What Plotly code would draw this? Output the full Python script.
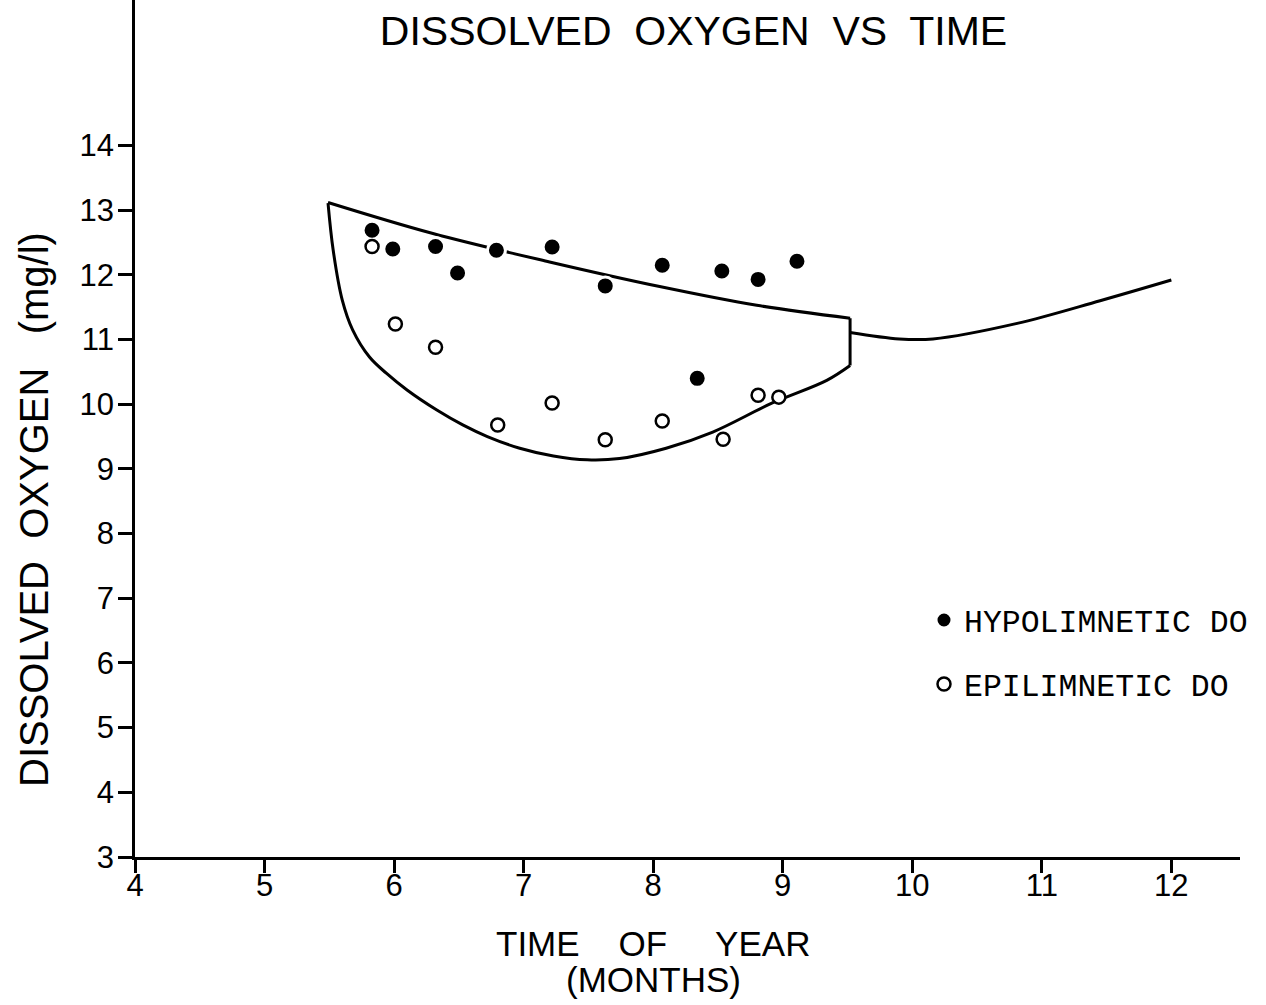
import plotly.graph_objects as go

# Hypolimnetic dissolved oxygen samples (filled circles)
hypo_month = [5.83, 5.99, 6.32, 6.49, 6.79, 7.22, 7.63, 8.07, 8.34, 8.53, 8.81, 9.11]
hypo_do = [12.69, 12.40, 12.44, 12.03, 12.38, 12.43, 11.83, 12.15, 10.40, 12.06, 11.93, 12.21]

# Epilimnetic dissolved oxygen samples (open circles)
epi_month = [5.83, 6.01, 6.32, 6.80, 7.22, 7.63, 8.07, 8.54, 8.81, 8.97]
epi_do = [12.44, 11.24, 10.88, 9.68, 10.02, 9.45, 9.74, 9.46, 10.14, 10.11]

# Envelope: upper boundary
upper_month = [5.49, 6.30, 7.20, 8.05, 8.80, 9.52]
upper_do = [13.12, 12.64, 12.20, 11.82, 11.53, 11.33]

# Envelope: right-hand closing edge
edge_month = [9.52, 9.52]
edge_do = [11.33, 10.60]

# Envelope: lower boundary
lower_month = [5.49, 5.53, 5.60, 5.68, 5.81, 5.94, 6.10, 6.33, 6.53, 6.72, 6.97, 7.23, 7.49, 7.74, 8.10, 8.46, 8.92, 9.34, 9.52]
lower_do = [13.11, 12.38, 11.61, 11.15, 10.73, 10.48, 10.22, 9.91, 9.68, 9.50, 9.32, 9.20, 9.14, 9.16, 9.32, 9.57, 10.02, 10.37, 10.60]

# Fully mixed period after turnover
mixed_month = [9.52, 9.90, 10.16, 10.81, 11.45, 12.00]
mixed_do = [11.11, 11.01, 11.01, 11.25, 11.60, 11.92]

x_ticks = [4, 5, 6, 7, 8, 9, 10, 11, 12]
y_ticks = [3, 4, 5, 6, 7, 8, 9, 10, 11, 12, 13, 14]

SANS = "Liberation Sans"
MONO = "Liberation Mono"
INK = "black"

fig = go.Figure()

for xs, ys, shape in [
    (upper_month, upper_do, "spline"),
    (edge_month, edge_do, "linear"),
    (lower_month, lower_do, "spline"),
    (mixed_month, mixed_do, "spline"),
]:
    fig.add_trace(go.Scatter(
        x=xs, y=ys, mode="lines",
        line=dict(color=INK, width=3, shape=shape, smoothing=1.0),
        showlegend=False, hoverinfo="skip",
    ))

fig.add_trace(go.Scatter(
    x=hypo_month, y=hypo_do, mode="markers", name="HYPOLIMNETIC DO",
    legendgroup="hypo",
    marker=dict(symbol="circle", size=18, color=INK, line=dict(color="white", width=3)),
))
fig.add_trace(go.Scatter(
    x=epi_month, y=epi_do, mode="markers", name="EPILIMNETIC DO",
    legendgroup="epi",
    marker=dict(symbol="circle", size=13, color="white", line=dict(color=INK, width=2.5)),
))

fig.update_layout(
    width=1266, height=1005,
    margin=dict(l=135, r=26, t=0, b=148),
    paper_bgcolor="white", plot_bgcolor="white",
    font=dict(family=SANS, color=INK),
    title=dict(
        text="DISSOLVED  OXYGEN  VS  TIME",
        font=dict(family=SANS, size=41, color=INK),
        x=(375 + 1012) / 2 / 1266, xanchor="center", xref="container",
        y=1 - 31 / 1005, yanchor="middle", yref="container",
    ),
    xaxis=dict(
        range=[4, 12.53], tickvals=x_ticks, ticktext=[str(v) for v in x_ticks],
        showgrid=False, zeroline=False,
        showline=True, linecolor=INK, linewidth=2.5,
        ticks="outside", ticklen=13, tickwidth=2.5, tickcolor=INK,
        ticklabelstandoff=-14,
        tickfont=dict(family=SANS, size=31, color=INK),
    ),
    yaxis=dict(
        range=[3, 16.25], tickvals=y_ticks, ticktext=[str(v) for v in y_ticks],
        showgrid=False, zeroline=False,
        showline=True, linecolor=INK, linewidth=2.5,
        ticks="outside", ticklen=14, tickwidth=2.5, tickcolor=INK,
        ticklabelstandoff=-2,
        tickfont=dict(family=SANS, size=31, color=INK),
    ),
    legend=dict(
        x=(924 - 135) / 1105, xanchor="left",
        y=(857 - 593) / 857, yanchor="top",
        font=dict(family=MONO, size=31.5, color=INK),
        bgcolor="rgba(0,0,0,0)", borderwidth=0,
        tracegroupgap=20, itemsizing="trace",
    ),
    annotations=[
        dict(
            text="DISSOLVED  OXYGEN   (mg/l)", textangle=-90,
            xref="paper", yref="paper", x=0, y=(857 - 510) / 857,
            xshift=-101, xanchor="center", yanchor="middle", showarrow=False,
            font=dict(family=SANS, size=40, color=INK),
        ),
        dict(
            text="TIME    OF     YEAR", xref="x", yref="paper", x=8.0, y=0,
            yshift=-943 + 857, xanchor="center", yanchor="middle", showarrow=False,
            font=dict(family=SANS, size=35, color=INK),
        ),
        dict(
            text="(MONTHS)", xref="x", yref="paper", x=8.0, y=0,
            yshift=-979 + 857, xanchor="center", yanchor="middle", showarrow=False,
            font=dict(family=SANS, size=35, color=INK),
        ),
    ],
)

fig.write_html("out.html")
